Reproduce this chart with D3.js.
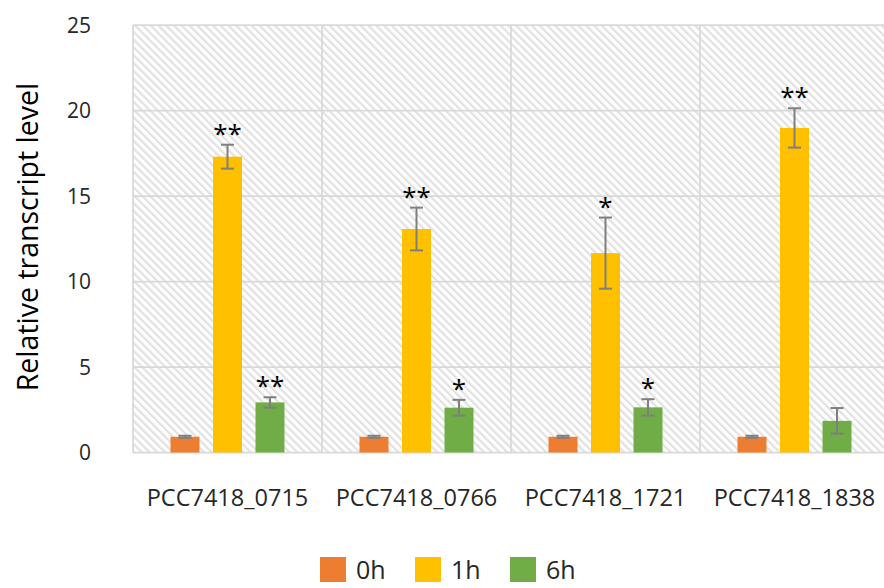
<!DOCTYPE html>
<html>
<head>
<meta charset="utf-8">
<script src="https://cdn.jsdelivr.net/npm/d3@7"></script>
<style>
  body { margin: 0; background: #fff; }
  svg { display: block; }
</style>
</head>
<body>
<script>
// data
var categories = ["PCC7418_0715", "PCC7418_0766", "PCC7418_1721", "PCC7418_1838"];
var series = ["0h", "1h", "6h"];
var colors = ["#ED7D31", "#FFC000", "#70AD47"];
var values0h = [0.92, 0.92, 0.92, 0.92];
var errors0h = [0.06, 0.06, 0.06, 0.06];
var values1h = [17.3, 13.07, 11.66, 18.98];
var errors1h = [0.7, 1.25, 2.08, 1.15];
var values6h = [2.93, 2.62, 2.64, 1.85];
var errors6h = [0.3, 0.46, 0.48, 0.75];
var signif1h = ["**", "**", "*", "**"];
var signif6h = ["**", "*", "*", ""];
var yTicks = [0, 5, 10, 15, 20, 25];

// set the dimensions and margins of the graph
var margin = {top: 25, left: 133},
    width = 756,
    height = 427.5;

var svg = d3.select("body").append("svg")
    .attr("width", 884)
    .attr("height", 588);

var defs = svg.append("defs");
var pat = defs.append("pattern")
    .attr("id", "hatch")
    .attr("patternUnits", "userSpaceOnUse")
    .attr("width", 5.5)
    .attr("height", 5.5)
    .attr("patternTransform", "rotate(-45)");
pat.append("rect")
    .attr("width", 5.5).attr("height", 5.5)
    .attr("fill", "#fff");
pat.append("rect")
    .attr("width", 2.2).attr("height", 5.5)
    .attr("fill", "#e1e1e1");

var g = svg.append("g")
    .attr("transform", "translate(" + margin.left + "," + margin.top + ")");

var x0 = d3.scaleBand().domain(categories).range([0, width]);
var x1 = d3.scaleBand().domain(series)
    .range([30.75, 158.25])
    .paddingInner(0.3176)
    .paddingOuter(0.1588);
var y = d3.scaleLinear().domain([0, 25]).range([height, 0]);

// hatched plot background
g.append("rect")
    .attr("width", width)
    .attr("height", height)
    .attr("fill", "url(#hatch)");

// gridlines
g.selectAll(".hgrid")
    .data(yTicks)
    .enter().append("line")
    .attr("x1", 0).attr("x2", width)
    .attr("y1", function(d) { return y(d); })
    .attr("y2", function(d) { return y(d); })
    .style("stroke", "#d9d9d9")
    .style("stroke-width", 1.75);

var bounds = categories.map(function(c) { return x0(c); }).concat([width]);
g.selectAll(".vgrid")
    .data(bounds)
    .enter().append("line")
    .attr("x1", function(d) { return d; })
    .attr("x2", function(d) { return d; })
    .attr("y1", 0).attr("y2", height)
    .style("stroke", "#d9d9d9")
    .style("stroke-width", 1.75);

// build rows for bars
var rows = [];
categories.forEach(function(c, i) {
  rows.push({cat: c, s: "0h", v: values0h[i], e: errors0h[i], sig: ""});
  rows.push({cat: c, s: "1h", v: values1h[i], e: errors1h[i], sig: signif1h[i]});
  rows.push({cat: c, s: "6h", v: values6h[i], e: errors6h[i], sig: signif6h[i]});
});
function cx(d) { return x0(d.cat) + x1(d.s) + x1.bandwidth() / 2; }

g.selectAll(".bar")
    .data(rows)
    .enter().append("rect")
    .attr("x", function(d) { return x0(d.cat) + x1(d.s); })
    .attr("y", function(d) { return y(d.v); })
    .attr("width", x1.bandwidth())
    .attr("height", function(d) { return y(0) - y(d.v); })
    .style("fill", function(d) { return colors[series.indexOf(d.s)]; });

// error bars
var eb = g.selectAll(".err")
    .data(rows)
    .enter().append("g")
    .style("stroke", "#7f7f7f")
    .style("stroke-width", 2);
eb.append("line")
    .attr("x1", cx).attr("x2", cx)
    .attr("y1", function(d) { return y(d.v + d.e); })
    .attr("y2", function(d) { return y(d.v - d.e); });
eb.append("line")
    .attr("x1", function(d) { return cx(d) - 6.5; })
    .attr("x2", function(d) { return cx(d) + 6.5; })
    .attr("y1", function(d) { return y(d.v + d.e); })
    .attr("y2", function(d) { return y(d.v + d.e); });
eb.append("line")
    .attr("x1", function(d) { return cx(d) - 6.5; })
    .attr("x2", function(d) { return cx(d) + 6.5; })
    .attr("y1", function(d) { return y(d.v - d.e); })
    .attr("y2", function(d) { return y(d.v - d.e); });

// significance stars
g.selectAll(".sig")
    .data(rows.filter(function(d) { return d.sig; }))
    .enter().append("text")
    .attr("x", cx)
    .attr("y", function(d) { return y(d.v + d.e) - 2; })
    .attr("font-family", "Open Sans")
    .attr("font-size", 26)
    .attr("fill", "#000")
    .style("text-anchor", "middle")
    .text(function(d) { return d.sig; });

// y tick labels
g.selectAll(".ytick")
    .data(yTicks)
    .enter().append("text")
    .attr("x", -42)
    .attr("y", function(d) { return y(d); })
    .attr("dy", "0.36em")
    .attr("font-family", "Open Sans")
    .attr("font-size", 21)
    .attr("fill", "#262626")
    .style("text-anchor", "end")
    .text(function(d) { return d; });

// x labels
g.selectAll(".xtick")
    .data(categories)
    .enter().append("text")
    .attr("x", function(d) { return x0(d) + x0.bandwidth() / 2; })
    .attr("y", height + 53)
    .attr("font-family", "Open Sans")
    .attr("font-size", 23.5)
    .attr("fill", "#262626")
    .style("text-anchor", "middle")
    .text(function(d) { return d; });

// y axis title
svg.append("text")
    .attr("transform", "translate(38," + 237 + ") rotate(-90)")
    .attr("font-family", "Open Sans")
    .attr("font-size", 28.5)
    .attr("fill", "#000")
    .style("text-anchor", "middle")
    .text("Relative transcript level");

// legend
var leg = svg.selectAll(".leg")
    .data(series)
    .enter().append("g")
    .attr("transform", function(d, i) { return "translate(" + (320 + i * 95) + ",557)"; });
leg.append("rect")
    .attr("width", 26).attr("height", 25)
    .style("fill", function(d, i) { return colors[i]; });
leg.append("text")
    .attr("x", 36)
    .attr("y", 21.5)
    .attr("font-family", "Open Sans")
    .attr("font-size", 25)
    .attr("fill", "#262626")
    .text(function(d) { return d; });
</script>
</body>
</html>
